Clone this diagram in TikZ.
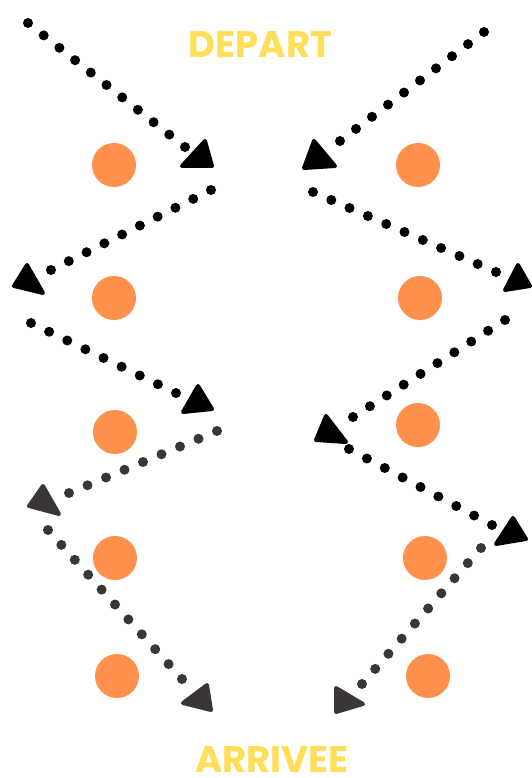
\documentclass[tikz,border=0pt]{standalone}
\usepackage{fontspec}
\newfontfamily\pop{Poppins}
\usetikzlibrary{calc}
\definecolor{dotorange}{HTML}{FF914D}
\definecolor{titleyellow}{HTML}{FFDE59}
\definecolor{darkgrey}{RGB}{58,53,54}
\tikzset{
  spot/.style={circle,fill=dotorange,minimum size=44pt,inner sep=0pt},
  title/.style={text=titleyellow,font=\pop\bfseries\fontsize{37}{40}\selectfont,inner sep=0pt},
  head/.style={line width=4pt,line join=round}
}
\newcommand{\dotline}[4]{% color, from, to, intervals
  \foreach \i in {0,...,#4}{\fill[#1] ($(#2)!\i/#4!(#3)$) circle (5pt);}}
\begin{document}
\begin{tikzpicture}[x=1pt,y=-1pt]
\useasboundingbox[fill=white] (0,0) rectangle (532,778);
% titles
\node[title] (dep) at (260.5,45) {DEPART};
\node[title] (arr) at (272,760) {ARRIVEE};
% orange spots
\node[spot] (l1) at (114,165) {};
\node[spot] (l2) at (114,298) {};
\node[spot] (l3) at (115,432) {};
\node[spot] (l4) at (115,558) {};
\node[spot] (l5) at (117,676) {};
\node[spot] (r1) at (418,165) {};
\node[spot] (r2) at (420,298) {};
\node[spot] (r3) at (418,425) {};
\node[spot] (r4) at (425,558) {};
\node[spot] (r5) at (428,676) {};
% dotted paths: end points
\coordinate (a0) at (28,23);   \coordinate (a1) at (185,147);
\coordinate (b0) at (211,190); \coordinate (b1) at (51,270);
\coordinate (c0) at (31,323);  \coordinate (c1) at (176,393);
\coordinate (d0) at (217,431); \coordinate (d1) at (69,493);
\coordinate (e0) at (48,530);  \coordinate (e1) at (182,679);
\coordinate (f0) at (484,32);  \coordinate (f1) at (340,141);
\coordinate (g0) at (313,192); \coordinate (g1) at (496,272);
\coordinate (h0) at (505,320); \coordinate (h1) at (353,417);
\coordinate (i0) at (349,449); \coordinate (i1) at (492,525);
\coordinate (j0) at (481,548); \coordinate (j1) at (362,684);
\dotline{black}{a0}{a1}{10}
\dotline{black}{b0}{b1}{9}
\dotline{black}{c0}{c1}{8}
\dotline{darkgrey}{d0}{d1}{8}
\dotline{darkgrey}{e0}{e1}{10}
\dotline{black}{f0}{f1}{9}
\dotline{black}{g0}{g1}{10}
\dotline{black}{h0}{h1}{9}
\dotline{black}{i0}{i1}{8}
\dotline{darkgrey}{j0}{j1}{9}
% arrow heads
\filldraw[head,black] (205,141) -- (182,166) -- (212,166) -- cycle;
\filldraw[head,black] (314,141) -- (304,168) -- (335,166) -- cycle;
\filldraw[head,black] (27,265) -- (14,286) -- (43,293) -- cycle;
\filldraw[head,black] (518,265) -- (505,290) -- (530,286) -- cycle;
\filldraw[head,black] (198,386) -- (183,412) -- (212,409) -- cycle;
\filldraw[head,black] (326,416) -- (316,440) -- (346,442) -- cycle;
\filldraw[head,darkgrey] (43,486) -- (29,506) -- (59,514) -- cycle;
\filldraw[head,black] (513,518) -- (496,544) -- (526,539) -- cycle;
\filldraw[head,darkgrey] (207,685) -- (183,703) -- (211,710) -- cycle;
\filldraw[head,darkgrey] (336,688) -- (336,712) -- (363,704) -- cycle;
\end{tikzpicture}
\end{document}
